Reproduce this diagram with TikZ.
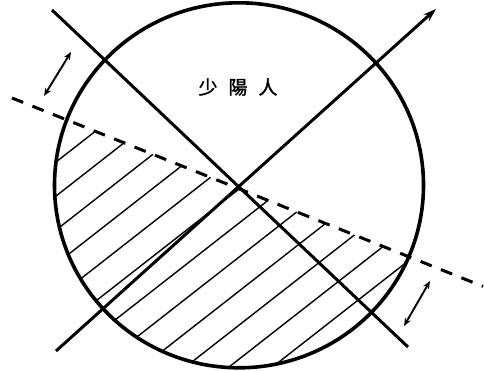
\documentclass[tikz,border=0pt]{standalone}
\usepackage{fontspec}
\newfontfamily\cjk[FakeBold=1.5]{Noto Sans CJK TC}
\usetikzlibrary{arrows.meta}
\begin{document}
\begin{tikzpicture}[x=1pt,y=-1pt,
  mainline/.style={line width=3pt},
  rim/.style={line width=3.6pt},
  hatchline/.style={line width=1.4pt},
  dashline/.style={line width=3pt, dash pattern=on 12pt off 10pt},
  shiftarrow/.style={line width=1.9pt, {Stealth[length=8pt,width=6.5pt]}-{Stealth[length=8pt,width=6.5pt]}}
]
\useasboundingbox (0,0) rectangle (484,371);
\coordinate (O) at (239,185.3);
\coordinate (D1) at (52,10);
\coordinate (D2) at (408,347);
\coordinate (A1) at (56,351);
\coordinate (A2) at (436,9);
\coordinate (L1) at (12,98);
\coordinate (L2) at (483,286.4);
\coordinate (U1) at (44,96);
\coordinate (U2) at (71,52);
\coordinate (W1) at (404,326);
\coordinate (W2) at (430,281);
% hatching
\begin{scope}
  \clip (O) ellipse [x radius=184.5pt, y radius=182.5pt];
  \clip (0,93.2) -- (484,286.8) -- (484,371) -- (0,371) -- cycle;
  \foreach \k in {0,...,11} {
    \pgfmathsetmacro{\c}{162.1+26.8*\k}
    \draw[hatchline] ({\c*0.616-400*0.788},{\c*0.788+400*0.616}) -- ({\c*0.616+400*0.788},{\c*0.788-400*0.616});
  }
\end{scope}
\draw[rim] (O) ellipse [x radius=184.5pt, y radius=182.5pt];
\draw[mainline] (D1) -- (D2);
\draw[mainline,-{Stealth[length=13pt,width=8.5pt]}] (A1) -- (A2);
\draw[dashline] (L1) -- (L2);
\draw[shiftarrow] (U1) -- (U2);
\draw[shiftarrow] (W1) -- (W2);
\node[font=\cjk\fontsize{19pt}{19pt}\selectfont] (label) at (238,87) {少\hspace{11pt}陽\hspace{11pt}人};
\end{tikzpicture}
\end{document}
